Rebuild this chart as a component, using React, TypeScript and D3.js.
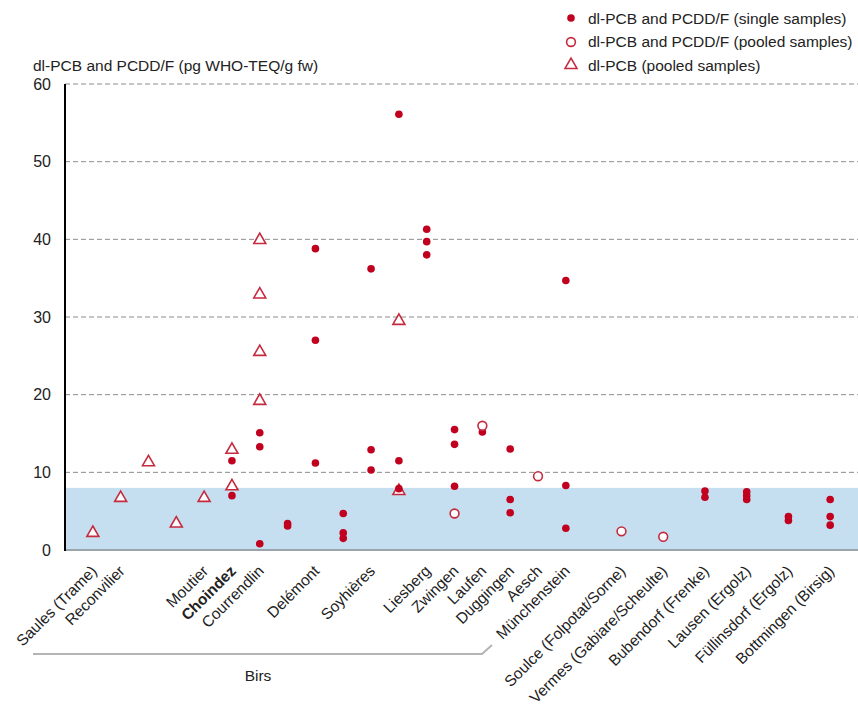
import React from 'react';
import * as d3 from 'd3';

const WIDTH = 858;
const HEIGHT = 707;
const MARGIN = { top: 84, right: 0, bottom: 157, left: 65 };

// sampling sites along the x axis; slot = position on the axis
const siteLabels = [
  'Saules (Trame)', 'Reconvilier', '', '', 'Moutier', 'Choindez', 'Courrendlin', '',
  'Delémont', '', 'Soyhières', '', 'Liesberg', 'Zwingen', 'Laufen', 'Duggingen', 'Aesch',
  'Münchenstein', 'Soulce (Folpotat/Sorne)', 'Vermes (Gabiare/Scheulte)', 'Bubendorf (Frenke)',
  'Lausen (Ergolz)', 'Füllinsdorf (Ergolz)', 'Bottmingen (Birsig)',
];
const siteSlots = [0, 1, 2, 3, 4, 5, 6, 7, 8, 9, 10, 11, 12, 13, 14, 15, 16, 17, 19, 20.5, 22, 23.5, 25, 26.5];
const boldSite = 'Choindez';

// [site index, value]
const singleSamples: [number, number][] = [
  [5, 11.5], [5, 7.0],
  [6, 15.1], [6, 13.3], [6, 0.8],
  [7, 3.4], [7, 3.1],
  [8, 38.8], [8, 27.0], [8, 11.2],
  [9, 4.7], [9, 2.2], [9, 1.5],
  [10, 36.2], [10, 12.9], [10, 10.3],
  [11, 56.1], [11, 11.5], [11, 7.9],
  [12, 41.3], [12, 39.7], [12, 38.0],
  [13, 15.5], [13, 13.6], [13, 8.2],
  [14, 15.2],
  [15, 13.0], [15, 6.5], [15, 4.8],
  [17, 34.7], [17, 8.3], [17, 2.8],
  [20, 7.6], [20, 6.8],
  [21, 7.5], [21, 7.0], [21, 6.5],
  [22, 4.3], [22, 3.8],
  [23, 6.5], [23, 4.3], [23, 3.2],
];
const pooledSamples: [number, number][] = [
  [13, 4.7], [14, 16.0], [16, 9.5], [18, 2.4], [19, 1.7],
];
const pcbPooled: [number, number][] = [
  [0, 2.2], [1, 6.7], [2, 11.3], [3, 3.4], [4, 6.7],
  [5, 12.9], [5, 8.2],
  [6, 39.9], [6, 32.9], [6, 25.5], [6, 19.2],
  [11, 29.5], [11, 7.6],
];
const yTicks = [0, 10, 20, 30, 40, 50, 60];
const limitValue = 8;
const groupName = 'Birs';
const legendItems = [
  'dl-PCB and PCDD/F (single samples)',
  'dl-PCB and PCDD/F (pooled samples)',
  'dl-PCB (pooled samples)',
];
const yTitle = 'dl-PCB and PCDD/F (pg WHO-TEQ/g fw)';

const RED = '#c0001e';
const RED_LINE = '#c62a3e';
const FONT = '"Liberation Sans", Arial, sans-serif';

const triangle = d3.symbol().type(d3.symbolTriangle).size(62);

export default function App() {
  const x = d3.scaleLinear()
    .domain([-1, 27.5])
    .range([MARGIN.left, WIDTH - MARGIN.right]);
  const y = d3.scaleLinear()
    .domain([0, 60])
    .range([HEIGHT - MARGIN.bottom, MARGIN.top]);

  const x0 = MARGIN.left;
  const x1 = WIDTH - MARGIN.right;
  const px = (i: number) => x(siteSlots[i]);

  return (
    <svg width={WIDTH} height={HEIGHT} style={{ position: 'absolute', left: 0, top: 0 }} fontFamily={FONT}>
      <rect x={x0} width={x1 - x0} y={y(limitValue)} height={y(0) - y(limitValue)} fill="#c6dff0" />

      {yTicks.filter(t => t > 0).map(t => (
        <line key={t} x1={x0} x2={x1} y1={y(t)} y2={y(t)} stroke="#8c8c8c" strokeDasharray="5,3" strokeWidth={1} />
      ))}
      {yTicks.map(t => (
        <text key={t} x={51} y={y(t)} dy="0.36em" textAnchor="end" fontSize={16} fill="#222">{t}</text>
      ))}
      <text x={33} y={71} fontSize={15.5} fill="#222">{yTitle}</text>

      <line x1={x0} x2={x1} y1={y(0)} y2={y(0)} stroke="#9aa4ad" strokeWidth={2} />
      <line x1={x0} x2={x0} y1={y(60)} y2={y(0) + 1} stroke="#000" strokeWidth={2} />

      {siteLabels.map((s, i) => s && (
        <text key={i} transform={`translate(${px(i) + 5},${y(0) + 22}) rotate(-45)`} textAnchor="end"
          fontSize={15.5} fill="#222" fontWeight={s === boldSite ? 'bold' : 'normal'}>{s}</text>
      ))}

      <path d={`M33,654 H482 L492,645`} fill="none" stroke="#b4b4b4" strokeWidth={2} />
      <text x={258} y={681} textAnchor="middle" fontSize={15.5} fill="#222">{groupName}</text>

      {pcbPooled.map(([i, v], k) => (
        <path key={`t${k}`} d={triangle() as string} transform={`translate(${px(i)},${y(v)})`}
          fill="#fff" stroke={RED_LINE} strokeWidth={1.6} />
      ))}
      {singleSamples.map(([i, v], k) => (
        <circle key={`s${k}`} cx={px(i)} cy={y(v)} r={3.8} fill={RED} />
      ))}
      {pooledSamples.map(([i, v], k) => (
        <circle key={`p${k}`} cx={px(i)} cy={y(v)} r={4.4} fill="#fff" stroke={RED_LINE} strokeWidth={1.6} />
      ))}

      <g>
        <circle cx={571} cy={18} r={3.8} fill={RED} />
        <circle cx={571} cy={42} r={4.4} fill="#fff" stroke={RED_LINE} strokeWidth={1.6} />
        <path d={triangle() as string} transform="translate(571,65)" fill="#fff" stroke={RED_LINE} strokeWidth={1.6} />
        {legendItems.map((s, i) => (
          <text key={s} x={588} y={18 + i * 23.5} dy="0.36em" fontSize={15.5} fill="#222">{s}</text>
        ))}
      </g>
    </svg>
  );
}
